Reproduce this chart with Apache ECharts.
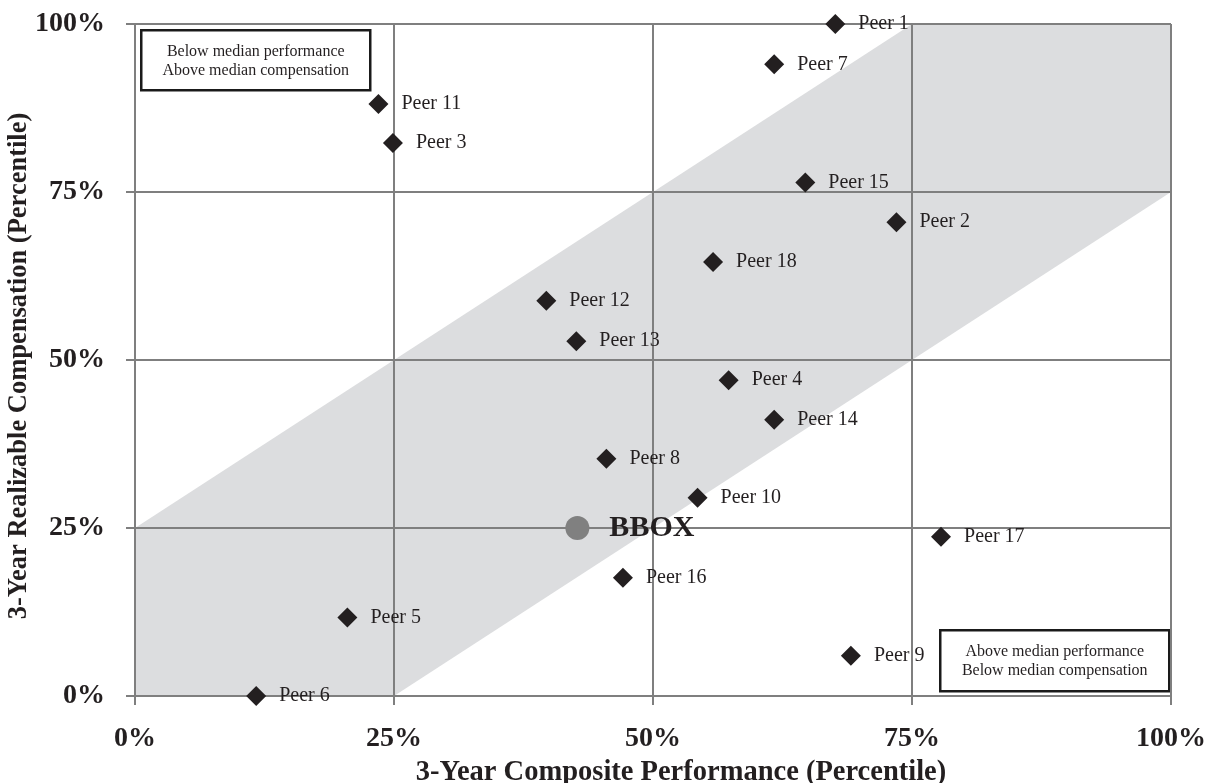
<!DOCTYPE html>
<html>
<head>
<meta charset="utf-8">
<title>Pay vs Performance</title>
<script src="https://cdn.jsdelivr.net/npm/echarts@6/dist/echarts.min.js"></script>
<style>
  html, body { margin: 0; padding: 0; background: #ffffff; }
  #chart { width: 1208px; height: 783px; }
</style>
</head>
<body>
<div id="chart"></div>
<script>
// Peer group: 3-year composite performance percentile vs realizable pay percentile
const peerNames = ['Peer 1','Peer 2','Peer 3','Peer 4','Peer 5','Peer 6','Peer 7','Peer 8','Peer 9',
                   'Peer 10','Peer 11','Peer 12','Peer 13','Peer 14','Peer 15','Peer 16','Peer 17','Peer 18'];
const peerPerf = [67.6, 73.5, 24.9, 57.3, 20.5, 11.7, 61.7, 45.5, 69.1,
                  54.3, 23.5, 39.7, 42.6, 61.7, 64.7, 47.1, 77.8, 55.8];
const peerComp = [100.0, 70.5, 82.3, 47.0, 11.7, 0.0, 94.0, 35.3, 6.0,
                  29.5, 88.1, 58.8, 52.8, 41.1, 76.4, 17.6, 23.7, 64.6];

// Company of interest
const companyName = 'BBOX';
const companyPerf = [42.7];
const companyComp = [25.0];

// Alignment band (pay within +/-25 points of performance)
const bandPerf = [0, 0, 75, 100, 100, 25];
const bandComp = [0, 25, 100, 100, 75, 0];

// Axis ticks / grid lines
const tickValues = [0, 25, 50, 75, 100];

const serif = '"Liberation Serif", "DejaVu Serif", serif';
const ink = '#231f20';
const gridGray = '#7f7f7f';

const chart = echarts.init(document.getElementById('chart'));

const peerData = peerNames.map((n, i) => ({ name: n, value: [peerPerf[i], peerComp[i]] }));
const bandPoints = bandPerf.map((x, i) => [x, bandComp[i]]);

const gridMarkLines = [];
tickValues.forEach(v => {
  gridMarkLines.push({ xAxis: v });
  gridMarkLines.push({ yAxis: v });
});

const axisCommon = {
  type: 'value',
  min: 0,
  max: 100,
  interval: 25,
  splitLine: { show: false },
  axisLine: { show: true, lineStyle: { color: gridGray, width: 2 } },
  axisTick: { show: true, inside: false, length: 9, lineStyle: { color: gridGray, width: 2 } },
  axisLabel: {
    formatter: '{value}%',
    fontFamily: serif,
    fontWeight: 'bold',
    fontSize: 28,
    color: ink
  },
  nameLocation: 'middle',
  nameMoveOverlap: false
};

const option = {
  backgroundColor: '#ffffff',
  animation: false,
  grid: { left: 135, right: 37, top: 24, bottom: 87, containLabel: false, outerBoundsMode: 'none' },
  xAxis: Object.assign({}, axisCommon, {
    name: '3-Year Composite Performance (Percentile)',
    nameGap: 62,
    nameTextStyle: { fontFamily: serif, fontWeight: 'bold', fontSize: 28.5, color: ink,
                     padding: [0, 0, 0, 56] },
    axisLabel: Object.assign({}, axisCommon.axisLabel, { margin: 29 })
  }),
  yAxis: Object.assign({}, axisCommon, {
    name: '3-Year Realizable Compensation (Percentile)',
    nameGap: 102,
    nameTextStyle: { fontFamily: serif, fontWeight: 'bold', fontSize: 26.5, color: ink,
                     padding: [0, 12, 0, 0] },
    axisLabel: Object.assign({}, axisCommon.axisLabel, { margin: 30 })
  }),
  series: [
    {
      type: 'custom',
      name: 'band',
      silent: true,
      z: 1,
      data: [0],
      renderItem: function (params, api) {
        const pts = bandPoints.map(p => api.coord(p));
        return {
          type: 'polygon',
          shape: { points: pts },
          style: { fill: '#dcdddf', stroke: null }
        };
      }
    },
    {
      type: 'scatter',
      name: 'Peers',
      z: 3,
      clip: false,
      symbol: 'diamond',
      symbolSize: 20,
      itemStyle: { color: ink, opacity: 1 },
      label: {
        show: true,
        position: 'right',
        distance: 13,
        formatter: '{b}',
        fontFamily: serif,
        fontSize: 20,
        color: ink
      },
      markLine: {
        silent: true,
        symbol: ['none', 'none'],
        label: { show: false },
        lineStyle: { color: gridGray, width: 2, type: 'solid', opacity: 1 },
        z: 2,
        data: gridMarkLines
      },
      data: peerData
    },
    {
      type: 'scatter',
      name: companyName,
      z: 4,
      clip: false,
      symbol: 'circle',
      symbolSize: 24,
      itemStyle: { color: '#808080', opacity: 1 },
      label: {
        show: true,
        position: 'right',
        distance: 20,
        formatter: '{b}',
        fontFamily: serif,
        fontWeight: 'bold',
        fontSize: 30,
        color: ink
      },
      data: companyPerf.map((x, i) => ({ name: companyName, value: [x, companyComp[i]] }))
    }
  ],
  graphic: [
    {
      type: 'group',
      left: 140,
      top: 29,
      children: [
        { type: 'rect', shape: { x: 0, y: 0, width: 229, height: 60 },
          style: { fill: '#ffffff', stroke: '#1a1a1a', lineWidth: 2.5 } },
        { type: 'text', x: 114.5, y: 31,
          style: { text: 'Below median performance\nAbove median compensation',
                   fontFamily: serif, fontSize: 16, lineHeight: 19, fill: ink,
                   align: 'center', verticalAlign: 'middle' } }
      ]
    },
    {
      type: 'group',
      left: 939,
      top: 629,
      children: [
        { type: 'rect', shape: { x: 0, y: 0, width: 229, height: 61 },
          style: { fill: '#ffffff', stroke: '#1a1a1a', lineWidth: 2.5 } },
        { type: 'text', x: 114.5, y: 31,
          style: { text: 'Above median performance\nBelow median compensation',
                   fontFamily: serif, fontSize: 16, lineHeight: 19, fill: ink,
                   align: 'center', verticalAlign: 'middle' } }
      ]
    }
  ]
};

chart.setOption(option);
</script>
</body>
</html>
